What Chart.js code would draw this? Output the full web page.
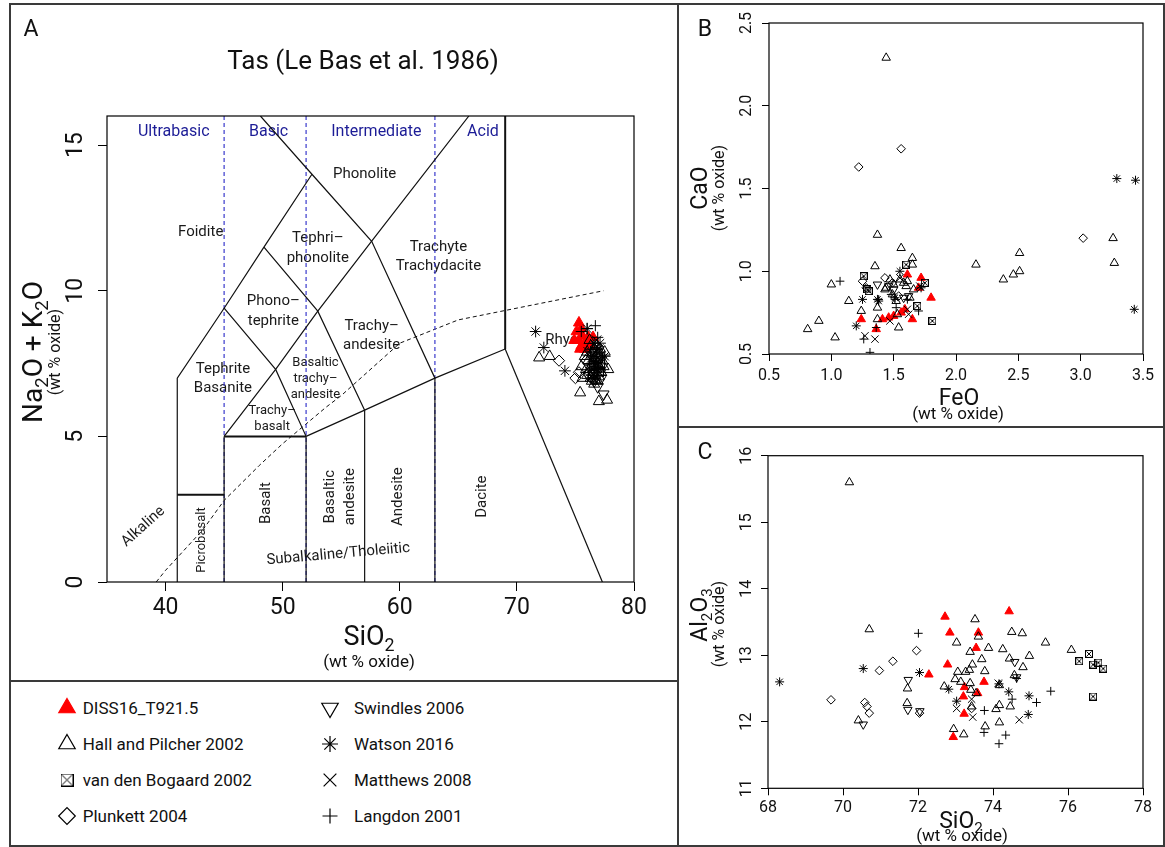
<!DOCTYPE html>
<html>
<head>
<meta charset="utf-8">
<title>TAS, CaO/FeO and Al2O3/SiO2 plots</title>
<script src="https://cdn.jsdelivr.net/npm/chart.js@4.4.1/dist/chart.umd.min.js"></script>
<style>
  html, body { margin: 0; padding: 0; background: #fff; }
  body { width: 1165px; height: 847px; position: relative; overflow: hidden; font-family: Roboto, 'Open Sans', sans-serif; color: #111; }
  .rule { position: absolute; background: #3a3a3a; }
  .pane { position: absolute; }
  .leg-sym { position: absolute; width: 28px; height: 28px; }
  .leg-txt { position: absolute; font-size: 17px; line-height: 20px; white-space: nowrap; color: #111; }
</style>
</head>
<body>
<!-- panel frames -->
<div class="rule" style="left:9px;top:3px;width:1156px;height:2px"></div>
<div class="rule" style="left:9px;top:845px;width:1156px;height:2px"></div>
<div class="rule" style="left:9px;top:3px;width:2px;height:844px"></div>
<div class="rule" style="left:1163px;top:3px;width:2px;height:844px"></div>
<div class="rule" style="left:677px;top:3px;width:2px;height:844px"></div>
<div class="rule" style="left:9px;top:680px;width:669px;height:2px"></div>
<div class="rule" style="left:677px;top:426px;width:488px;height:2px"></div>

<div class="pane" style="left:11px;top:6px;width:666px;height:674px"><canvas id="chartA"></canvas></div>
<div class="pane" style="left:680px;top:6px;width:484px;height:420px"><canvas id="chartB"></canvas></div>
<div class="pane" style="left:680px;top:429px;width:484px;height:416px"><canvas id="chartC"></canvas></div>
<div id="legend"></div>

<script>
// ============================================================
// Data
// ============================================================

// Panel A: SiO2 vs Na2O + K2O
const dissTAS = [[75.3,8.9],[75.1,8.6],[75.5,8.7],[74.9,8.3],[75.3,8.3],[75.6,8.45],[75.9,8.25],[75.5,8.1],[76.1,8.4],[76.5,8.4],[76.2,8.1],[75.8,8.0],[75.4,8.0]];
const hallTAS = [[71.9,7.7],[72.8,7.75],[75.4,6.5],[77.0,6.2],[77.7,6.25],[77.8,7.3],[75.5,7.4],[76.3,7.0],[76.5,7.2],[76.7,6.95],[76.9,7.5],[77.2,7.8],[76.4,7.8],[76.6,8.0],[76.1,7.6],[76.8,7.3],[77.0,7.05],[76.2,7.3],[77.3,7.6],[76.5,7.6],[76.0,7.9],[76.8,7.8],[77.1,8.0],[76.3,8.1],[76.7,7.1],[76.4,6.9],[75.9,7.3],[76.6,7.4],[77.2,7.2],[76.9,6.9],[76.2,8.3],[75.8,7.75],[77.4,7.4],[76.0,7.1],[76.6,6.8],[77.5,7.9],[76.8,8.1],[76.4,7.45],[75.6,7.0],[77.1,7.35]];
const vdbTAS = [[76.6,7.4],[76.9,7.7],[77.1,7.5],[76.7,7.9],[76.5,7.1],[77.0,7.2]];
const plunTAS = [[73.6,7.6],[75.0,7.0],[75.3,7.2],[76.2,7.2],[76.7,7.6],[76.3,7.05],[75.9,7.6],[76.5,6.95],[76.9,7.3]];
const swinTAS = [[76.9,6.7],[77.4,6.45],[76.6,6.9],[76.4,7.2],[77.2,7.0],[76.8,7.55]];
const watTAS = [[71.6,8.6],[72.3,8.05],[74.1,7.25],[76.0,8.7],[77.1,8.2],[77.5,7.75],[76.6,8.2],[76.9,8.0],[76.3,7.9]];
const matTAS = [[76.8,8.3],[77.0,8.0],[76.4,7.7],[76.7,7.5],[77.2,7.6],[76.1,7.9]];
const langTAS = [[76.7,8.8],[76.0,8.7],[75.5,8.6],[76.9,8.4],[76.6,7.6],[76.2,7.5],[77.0,7.3],[76.5,7.0],[76.8,7.8]];

// Panel B: FeO vs CaO
const dissFeCa = [[1.61,0.98],[1.72,0.96],[1.80,0.84],[1.24,0.71],[1.36,0.65],[1.41,0.71],[1.46,0.72],[1.56,0.75],[1.59,0.77],[1.65,0.71],[1.50,0.73],[1.70,0.90]];
const hallFeCa = [[1.44,2.29],[3.26,1.20],[3.27,1.05],[2.51,1.11],[2.51,1.00],[2.46,0.98],[2.38,0.95],[2.16,1.04],[1.37,1.22],[1.56,1.14],[1.65,1.08],[1.65,1.04],[1.35,1.03],[1.00,0.92],[1.14,0.82],[1.24,0.76],[0.90,0.70],[0.81,0.65],[1.03,0.60],[1.37,0.71],[1.37,0.78],[1.54,0.66],[1.53,0.74],[1.47,0.95],[1.50,0.92],[1.55,0.95],[1.60,0.91],[1.66,0.89],[1.43,0.89],[1.52,0.82],[1.61,0.94],[1.44,0.90],[1.58,0.93],[1.63,0.84],[1.49,0.86]];
const vdbFeCa = [[1.26,0.97],[1.30,0.88],[1.60,1.04],[1.75,0.93],[1.69,0.79],[1.81,0.70],[1.29,0.89]];
const plunFeCa = [[1.22,1.63],[1.56,1.74],[3.02,1.20],[1.25,0.94],[1.43,0.96],[1.28,0.90],[1.49,0.93],[1.54,0.85]];
const swinFeCa = [[1.37,0.92],[1.58,0.84],[1.50,0.89],[1.46,0.91],[1.62,0.85]];
const watFeCa = [[3.29,1.56],[3.44,1.55],[3.43,0.77],[1.20,0.67],[1.25,0.83],[1.37,0.83],[1.55,1.00],[1.51,0.84],[1.72,0.90],[1.38,0.82]];
const matFeCa = [[1.35,0.59],[1.27,0.61],[1.47,0.70],[1.61,0.77],[1.62,0.74],[1.71,0.91],[1.55,0.96]];
const langFeCa = [[1.07,0.94],[1.26,0.59],[1.36,0.66],[1.31,0.51],[1.51,0.83],[1.61,0.83],[1.70,0.76],[1.38,0.83],[1.52,0.78],[1.48,0.86]];

// Panel C: SiO2 vs Al2O3
const dissSiAl = [[72.72,13.58],[74.43,13.66],[72.85,13.34],[73.61,13.34],[73.55,13.11],[72.79,12.86],[72.29,12.71],[73.76,12.60],[73.24,12.52],[73.59,12.43],[73.21,12.38],[73.23,12.12],[72.94,11.77]];
const hallSiAl = [[70.17,15.60],[70.70,13.39],[73.52,13.54],[74.50,13.35],[74.78,13.33],[75.40,13.19],[76.09,13.08],[74.97,12.99],[74.26,13.09],[73.88,13.11],[73.61,13.28],[73.03,13.19],[73.39,13.05],[73.70,12.94],[73.45,12.86],[73.37,12.78],[73.27,12.75],[73.06,12.75],[72.99,12.64],[73.14,12.60],[73.39,12.58],[73.78,12.76],[74.44,12.95],[74.80,12.82],[74.57,12.70],[72.70,12.53],[73.41,12.48],[73.55,12.43],[74.17,12.55],[74.17,12.25],[74.08,12.19],[74.46,12.23],[73.43,12.23],[72.95,11.89],[73.22,11.81],[73.79,11.93],[74.17,11.99],[71.72,12.50],[71.71,12.28],[70.41,12.02]];
const vdbSiAl = [[76.30,12.91],[76.56,13.02],[76.67,12.86],[76.81,12.89],[76.94,12.80],[76.67,12.38]];
const plunSiAl = [[69.68,12.33],[70.58,12.29],[70.64,12.23],[70.70,12.13],[70.97,12.77],[71.33,12.91],[71.96,13.07],[72.04,12.13],[73.43,12.20]];
const swinSiAl = [[71.74,12.63],[71.73,12.18],[72.05,12.16],[70.54,11.96],[74.58,12.90],[74.63,12.67]];
const watSiAl = [[68.31,12.60],[70.54,12.80],[72.04,12.74],[72.82,12.49],[73.03,12.31],[74.16,12.57],[74.42,12.45],[74.96,12.39],[74.94,12.11]];
const matSiAl = [[73.03,12.20],[73.43,12.34],[73.46,12.07],[74.70,12.03],[74.14,12.58]];
const langSiAl = [[72.01,13.33],[73.77,12.17],[73.76,11.84],[74.34,11.80],[74.16,11.67],[74.51,12.34],[74.63,12.65],[75.16,12.29],[75.54,12.46]];

// TAS field boundaries (Le Bas et al. 1986)
const tasEdges = [
  [[41,0],[41,7],[45,9.4],[48.4,11.5],[52.5,14]],
  [[48.1,16],[52.5,14],[57.6,11.7],[63,7]],
  [[45,0],[45,5]],
  [[52,0],[52,5]],
  [[52,5],[57,5.9],[63,7],[69,8]],
  [[57,0],[57,5.9]],
  [[63,0],[63,7]],
  [[69,8],[77.3,0]],
  [[45,5],[49.4,7.3],[53,9.3],[57.6,11.7],[65.9,16]],
  [[52,5],[49.4,7.3],[45,9.4]],
  [[57,5.9],[53,9.3],[48.4,11.5]]
];
const tasHeavyEdges = [
  [[41,3],[45,3]],
  [[45,5],[52,5]],
  [[69,8],[69,16]]
];
const silicaSplits = [45, 52, 63];
const alkalineCurve = [[39.2,0],[40,0.4],[43.2,1.8],[45,2.8],[48,4],[50,4.75],[53.7,6],[55,6.4],[60,8.2],[65,9],[77.4,10]];

// axis ticks
const tasTicksX = [40, 50, 60, 70, 80];
const tasTicksY = [0, 5, 10, 15];
const feoTicks = [0.5, 1.0, 1.5, 2.0, 2.5, 3.0, 3.5];
const caoTicks = [0.5, 1.0, 1.5, 2.0, 2.5];
const silicaTicks = [68, 70, 72, 74, 76, 78];
const aluminaTicks = [11, 12, 13, 14, 15, 16];

// field names: text, SiO2, Na2O+K2O, angle, small
const tasNames = [
  ['Phonolite', 57.0, 14.0, 0, 0],
  ['Foidite', 43.0, 12.0, 0, 0],
  ['Tephri\u2013', 53.0, 11.8, 0, 0],
  ['phonolite', 53.0, 11.13, 0, 0],
  ['Trachyte', 63.3, 11.5, 0, 0],
  ['Trachydacite', 63.3, 10.84, 0, 0],
  ['Phono\u2013', 49.2, 9.63, 0, 0],
  ['tephrite', 49.2, 8.94, 0, 0],
  ['Trachy\u2013', 57.6, 8.79, 0, 0],
  ['andesite', 57.6, 8.12, 0, 0],
  ['Tephrite', 44.9, 7.32, 0, 0],
  ['Basanite', 44.9, 6.65, 0, 0],
  ['Basaltic', 52.8, 7.54, 0, 1],
  ['trachy\u2013', 52.8, 6.97, 0, 1],
  ['andesite', 52.8, 6.44, 0, 1],
  ['Trachy\u2013', 49.1, 5.87, 0, 1],
  ['basalt', 49.1, 5.34, 0, 1],
  ['Rhyolite', 74.7, 8.3, 0, 0],
  ['Alkaline', 38.1, 1.9, -42, 0],
  ['Picrobasalt', 43.1, 1.44, -90, 1],
  ['Basalt', 48.6, 2.71, -90, 0],
  ['Basaltic', 54.1, 2.93, -90, 0],
  ['andesite', 55.75, 2.93, -90, 0],
  ['Andesite', 59.9, 2.93, -90, 0],
  ['Dacite', 67.0, 2.93, -90, 0],
  ['Subalkaline/Tholeiitic', 54.75, 0.95, -5, 0]
];
const silicaClasses = [
  ['Ultrabasic', 40.7, 15.45],
  ['Basic', 48.8, 15.45],
  ['Intermediate', 58.0, 15.45],
  ['Acid', 67.1, 15.45]
];

// ============================================================
// Sources and markers
// ============================================================
const FONT = 'Roboto, "Open Sans", sans-serif';
Chart.defaults.font.family = FONT;

const sources = [
  { label: 'DISS16_T921.5', shape: 'triangle', rot: 0, fill: '#ff0000', edge: '#ff0000', tas: dissTAS, feca: dissFeCa, sial: dissSiAl, order: 5 },
  { label: 'Hall and Pilcher 2002', shape: 'triangle', rot: 0, tas: hallTAS, feca: hallFeCa, sial: hallSiAl },
  { label: 'van den Bogaard 2002', shape: 'box', rot: 0, tas: vdbTAS, feca: vdbFeCa, sial: vdbSiAl },
  { label: 'Plunkett 2004', shape: 'rectRot', rot: 0, tas: plunTAS, feca: plunFeCa, sial: plunSiAl },
  { label: 'Swindles 2006', shape: 'triangle', rot: 180, tas: swinTAS, feca: swinFeCa, sial: swinSiAl },
  { label: 'Watson 2016', shape: 'star', rot: 0, tas: watTAS, feca: watFeCa, sial: watSiAl },
  { label: 'Matthews 2008', shape: 'crossRot', rot: 0, tas: matTAS, feca: matFeCa, sial: matSiAl },
  { label: 'Langdon 2001', shape: 'cross', rot: 0, tas: langTAS, feca: langFeCa, sial: langSiAl }
];

const shapeRadius = { triangle: 4.9, rectRot: 4.3, star: 4.5, crossRot: 5.2, cross: 4.3, box: 4 };

// boxed cross marker, drawn once per size
function boxMark(size) {
  const c = document.createElement('canvas');
  c.width = size; c.height = size;
  const g = c.getContext('2d');
  g.strokeStyle = '#000';
  g.lineWidth = 1;
  g.strokeRect(0.5, 0.5, size - 1, size - 1);
  g.beginPath();
  g.moveTo(1.5, 1.5); g.lineTo(size - 1.5, size - 1.5);
  g.moveTo(size - 1.5, 1.5); g.lineTo(1.5, size - 1.5);
  g.stroke();
  return c;
}

function pointSet(src, pairs, k) {
  const r = shapeRadius[src.shape] * k;
  return {
    label: src.label,
    data: pairs.map(p => ({ x: p[0], y: p[1] })),
    showLine: false,
    pointStyle: src.shape === 'box' ? boxMark(Math.round(8 * k)) : src.shape,
    pointRotation: src.rot,
    pointRadius: r,
    pointHoverRadius: r,
    pointBackgroundColor: src.fill || 'rgba(0,0,0,0)',
    pointBorderColor: src.edge || '#000',
    pointBorderWidth: 1,
    order: src.order || 0
  };
}

function lineSet(pairs, width, color, dash) {
  return {
    data: pairs.map(p => ({ x: p[0], y: p[1] })),
    showLine: true,
    fill: false,
    tension: 0,
    pointRadius: 0,
    borderColor: color,
    borderWidth: width,
    borderDash: dash || [],
    order: 20
  };
}

// ============================================================
// Axes and decoration
// ============================================================
function axis(min, max, ticks, tickLen, fitSize, isX) {
  return {
    type: 'linear',
    min, max,
    afterBuildTicks: s => { s.ticks = ticks.map(v => ({ value: v })); },
    afterFit: s => { if (isX) s.height = fitSize; else s.width = fitSize; },
    grid: { display: true, drawOnChartArea: false, drawTicks: true, tickLength: tickLen, color: '#000', lineWidth: 1 },
    border: { display: false },
    ticks: { display: false }
  };
}

function drawRich(ctx, parts, x, y, size, angle) {
  ctx.save();
  ctx.translate(x, y);
  if (angle) ctx.rotate(angle);
  ctx.textAlign = 'left';
  ctx.textBaseline = 'alphabetic';
  let w = 0;
  parts.forEach(p => {
    ctx.font = (p[1] ? size * 0.66 : size) + 'px ' + FONT;
    w += ctx.measureText(p[0]).width;
  });
  let cx = -w / 2;
  parts.forEach(p => {
    ctx.font = (p[1] ? size * 0.66 : size) + 'px ' + FONT;
    ctx.fillText(p[0], cx, size * 0.35 + (p[1] ? size * 0.22 : 0));
    cx += ctx.measureText(p[0]).width;
  });
  ctx.restore();
}

function drawText(ctx, text, x, y, size, angle, color) {
  ctx.save();
  ctx.translate(x, y);
  if (angle) ctx.rotate(angle);
  ctx.font = size + 'px ' + FONT;
  ctx.fillStyle = color || '#111';
  ctx.textAlign = 'center';
  ctx.textBaseline = 'middle';
  ctx.fillText(text, 0, 0);
  ctx.restore();
}

const deco = {
  chartA: {
    tickSize: 23, xOff: 26, yOff: 31, decimals: 0,
    letter: ['A', 20, 24, 23],
    title: ['Tas (Le Bas et al. 1986)', 352, 56, 26],
    yTitle: [[['Na', 0], ['2', 1], ['O + K', 0], ['2', 1], ['O', 0]], 21, 346, 28],
    ySub: ['(wt % oxide)', 45, 346, 16],
    xTitle: [[['SiO', 0], ['2', 1]], 358, 630, 27],
    xSub: ['(wt % oxide)', 358, 657, 17],
    fields: true
  },
  chartB: {
    tickSize: 16, xOff: 22, yOff: 22.5, decimals: 1,
    letter: ['B', 25, 24, 23],
    yTitle: [[['CaO', 0]], 19, 182, 23],
    ySub: ['(wt % oxide)', 40, 182, 16],
    xTitle: [[['FeO', 0]], 279, 391, 23],
    xSub: ['(wt % oxide)', 278, 409, 17]
  },
  chartC: {
    tickSize: 16, xOff: 20, yOff: 21.5, decimals: 0,
    letter: ['C', 25, 24, 23],
    yTitle: [[['Al', 0], ['2', 1], ['O', 0], ['3', 1]], 19, 186, 23],
    ySub: ['(wt % oxide)', 40, 195, 16],
    xTitle: [[['SiO', 0], ['2', 1]], 281, 391, 23],
    xSub: ['(wt % oxide)', 282, 408, 17]
  }
};

const panelDeco = {
  id: 'panelDeco',
  beforeDatasetsDraw(chart) {
    const d = deco[chart.canvas.id];
    if (!d || !d.fields) return;
    const ctx = chart.ctx, xs = chart.scales.x, ys = chart.scales.y;
    tasNames.forEach(n => {
      drawText(ctx, n[0], xs.getPixelForValue(n[1]), ys.getPixelForValue(n[2]),
        n[4] ? 13 : 15, n[3] * Math.PI / 180, '#1a1a1a');
    });
    silicaClasses.forEach(n => {
      drawText(ctx, n[0], xs.getPixelForValue(n[1]), ys.getPixelForValue(n[2]), 16, 0, '#1c1c96');
    });
  },
  afterDraw(chart) {
    const d = deco[chart.canvas.id];
    if (!d) return;
    const ctx = chart.ctx, a = chart.chartArea;
    const xs = chart.scales.x, ys = chart.scales.y;
    ctx.save();
    ctx.strokeStyle = '#000';
    ctx.lineWidth = 1.2;
    ctx.strokeRect(a.left, a.top, a.right - a.left, a.bottom - a.top);
    ctx.restore();

    xs.ticks.forEach(t => {
      drawText(ctx, t.value.toFixed(d.decimals), xs.getPixelForValue(t.value), a.bottom + d.xOff, d.tickSize, 0);
    });
    ys.ticks.forEach(t => {
      drawText(ctx, t.value.toFixed(d.decimals), a.left - d.yOff, ys.getPixelForValue(t.value), d.tickSize, -Math.PI / 2);
    });

    drawText(ctx, d.letter[0], d.letter[1], d.letter[2], d.letter[3], 0);
    if (d.title) drawText(ctx, d.title[0], d.title[1], d.title[2], d.title[3], 0);
    ctx.fillStyle = '#111';
    drawRich(ctx, d.yTitle[0], d.yTitle[1], d.yTitle[2], d.yTitle[3], -Math.PI / 2);
    drawText(ctx, d.ySub[0], d.ySub[1], d.ySub[2], d.ySub[3], -Math.PI / 2);
    drawRich(ctx, d.xTitle[0], d.xTitle[1], d.xTitle[2], d.xTitle[3], 0);
    drawText(ctx, d.xSub[0], d.xSub[1], d.xSub[2], d.xSub[3], 0);
  }
};

function makeChart(id, datasets, xAxis, yAxis, padding) {
  return new Chart(document.getElementById(id), {
    type: 'scatter',
    data: { datasets },
    options: {
      responsive: true,
      maintainAspectRatio: false,
      animation: false,
      events: [],
      layout: { padding },
      plugins: { legend: { display: false }, tooltip: { enabled: false } },
      scales: { x: xAxis, y: yAxis }
    },
    plugins: [panelDeco]
  });
}

// ============================================================
// Panel A: TAS
// ============================================================
const tasSets = [];
tasEdges.forEach(e => tasSets.push(lineSet(e, 1.2, '#111')));
tasHeavyEdges.forEach(e => tasSets.push(lineSet(e, 2, '#111')));
silicaSplits.forEach(v => tasSets.push(lineSet([[v, 0], [v, 16]], 1.2, '#3a3acc', [4, 3])));
tasSets.push(lineSet(alkalineCurve, 1, '#111', [4, 3]));
sources.forEach(s => tasSets.push(pointSet(s, s.tas, 1.3)));

makeChart('chartA', tasSets,
  axis(35, 80, tasTicksX, 9, 98, true),
  axis(0, 16, tasTicksY, 9, 96, false),
  { left: 0, top: 110, right: 43, bottom: 0 });

// ============================================================
// Panel B: FeO vs CaO
// ============================================================
makeChart('chartB', sources.map(s => pointSet(s, s.feca, 1)),
  axis(0.5, 3.5, feoTicks, 7, 72, true),
  axis(0.5, 2.5, caoTicks, 7, 89, false),
  { left: 0, top: 17, right: 21, bottom: 0 });

// ============================================================
// Panel C: SiO2 vs Al2O3
// ============================================================
makeChart('chartC', sources.map(s => pointSet(s, s.sial, 1)),
  axis(68, 78, silicaTicks, 7, 56.7, true),
  axis(11, 16, aluminaTicks, 7, 88, false),
  { left: 0, top: 26.7, right: 21, bottom: 0 });

// ============================================================
// Legend
// ============================================================
const legendRadius = { triangle: 9.5, rectRot: 8.3, star: 8, crossRot: 9, cross: 7.5 };
const legendSlots = [[66.7, 82.7], [330, 354]];
const legendRows = [708, 744, 780, 816];

function renderLegend() {
  const box = document.getElementById('legend');
  sources.forEach((s, i) => {
    const col = legendSlots[i < 4 ? 0 : 1], cy = legendRows[i % 4];
    const cv = document.createElement('canvas');
    cv.className = 'leg-sym';
    cv.width = 28; cv.height = 28;
    cv.style.left = (col[0] - 14) + 'px';
    cv.style.top = (cy - 14) + 'px';
    const g = cv.getContext('2d');
    if (s.shape === 'box') {
      g.drawImage(boxMark(13), 14 - 6.5, 14 - 6.5);
    } else {
      g.fillStyle = s.fill || 'rgba(0,0,0,0)';
      g.strokeStyle = s.edge || '#000';
      g.lineWidth = 1.2;
      Chart.helpers.drawPoint(g, { pointStyle: s.shape, rotation: s.rot, radius: legendRadius[s.shape], borderWidth: 1.2 }, 14, 14);
    }
    box.appendChild(cv);
    const tx = document.createElement('div');
    tx.className = 'leg-txt';
    tx.textContent = s.label;
    tx.style.left = col[1] + 'px';
    tx.style.top = (cy - 10) + 'px';
    box.appendChild(tx);
  });
}
renderLegend();
</script>
</body>
</html>
